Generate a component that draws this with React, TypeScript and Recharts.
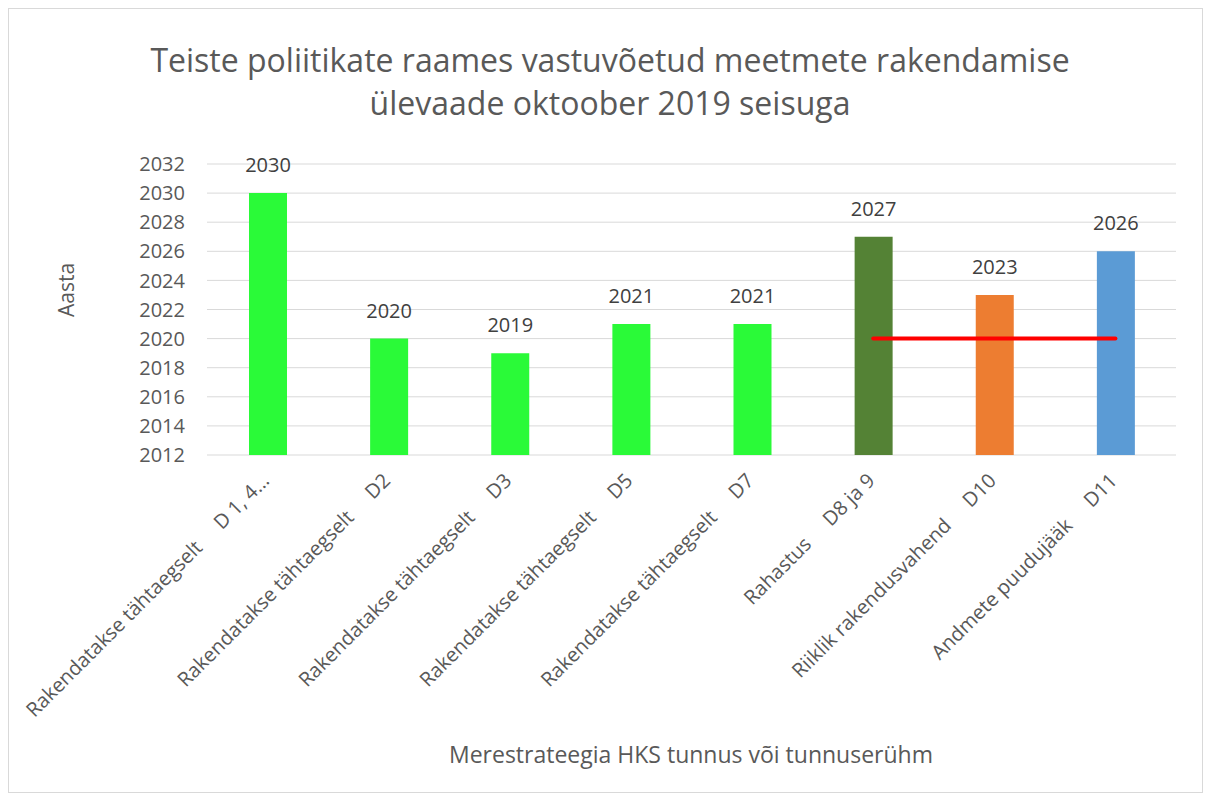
import { ComposedChart, Bar, Line, XAxis, YAxis, CartesianGrid, Cell, LabelList } from "recharts";

const categories = [
  "Rakendatakse tähtaegselt     D 1, 4...",
  "Rakendatakse tähtaegselt     D2",
  "Rakendatakse tähtaegselt     D3",
  "Rakendatakse tähtaegselt     D5",
  "Rakendatakse tähtaegselt     D7",
  "Rahastus     D8 ja 9",
  "Riiklik rakendusvahend     D10",
  "Andmete puudujääk     D11",
];
const years = [2030, 2020, 2019, 2021, 2021, 2027, 2023, 2026];
const redLine = [null, null, null, null, null, 2020, 2020, 2020];
const barColors = ["#2AFA38", "#2AFA38", "#2AFA38", "#2AFA38", "#2AFA38", "#548235", "#ED7D31", "#5B9BD5"];
const yTicks = [2012, 2014, 2016, 2018, 2020, 2022, 2024, 2026, 2028, 2030, 2032];

const data = categories.map((name, i) => ({ name, year: years[i], target: redLine[i] }));

const font = "'Open Sans', sans-serif";
const grey = "#595959";

const XTick = ({ x, y, payload }: any) => {
  const tx = x + 3;
  const ty = y + 19;
  return (
    <text
      x={tx}
      y={ty}
      transform={`rotate(-45, ${tx}, ${ty})`}
      textAnchor="end"
      fontSize={20}
      fill={grey}
      fontFamily={font}
      style={{ whiteSpace: "pre" }}
    >
      {payload.value}
    </text>
  );
};

export default function App() {
  return (
    <div
      style={{
        position: "relative",
        width: 1193,
        height: 783,
        border: "1px solid #d9d9d9",
        fontFamily: font,
        background: "#fff",
      }}
    >
      <div
        style={{
          position: "absolute",
          left: 0,
          width: 1202,
          top: 29,
          textAlign: "center",
          fontSize: 32,
          lineHeight: "43px",
          color: grey,
          whiteSpace: "nowrap",
        }}
      >
        Teiste poliitikate raames vastuvõetud meetmete rakendamise
        <br />
        ülevaade oktoober 2019 seisuga
      </div>
      <div
        style={{
          position: "absolute",
          left: 57,
          top: 281,
          transform: "translate(-50%, -50%) rotate(-90deg)",
          fontSize: 21,
          color: grey,
        }}
      >
        Aasta
      </div>
      <div
        style={{
          position: "absolute",
          left: 0,
          width: 1364,
          top: 729,
          textAlign: "center",
          fontSize: 23,
          color: grey,
        }}
      >
        Merestrateegia HKS tunnus või tunnuserühm
      </div>
      <ComposedChart
        width={1193}
        height={783}
        data={data}
        margin={{ top: 155, right: 26, left: 0, bottom: 37 }}
      >
        <CartesianGrid vertical={false} stroke="#d9d9d9" />
        <XAxis
          dataKey="name"
          height={300}
          axisLine={false}
          tickLine={false}
          interval={0}
          tick={<XTick />}
        />
        <YAxis
          width={198}
          domain={[2012, 2032]}
          ticks={yTicks}
          axisLine={false}
          tickLine={false}
          tickMargin={16}
          tick={{ fontSize: 20, fill: grey, fontFamily: font }}
        />
        <Bar dataKey="year" barSize={38} isAnimationActive={false}>
          {data.map((d, i) => (
            <Cell key={d.name} fill={barColors[i]} />
          ))}
          <LabelList
            dataKey="year"
            position="top"
            offset={21}
            fontSize={20}
            fill="#404040"
            fontFamily={font}
          />
        </Bar>
        <Line
          dataKey="target"
          stroke="#FF0000"
          strokeWidth={4}
          strokeLinecap="round"
          dot={false}
          activeDot={false}
          connectNulls={false}
          isAnimationActive={false}
        />
      </ComposedChart>
    </div>
  );
}
